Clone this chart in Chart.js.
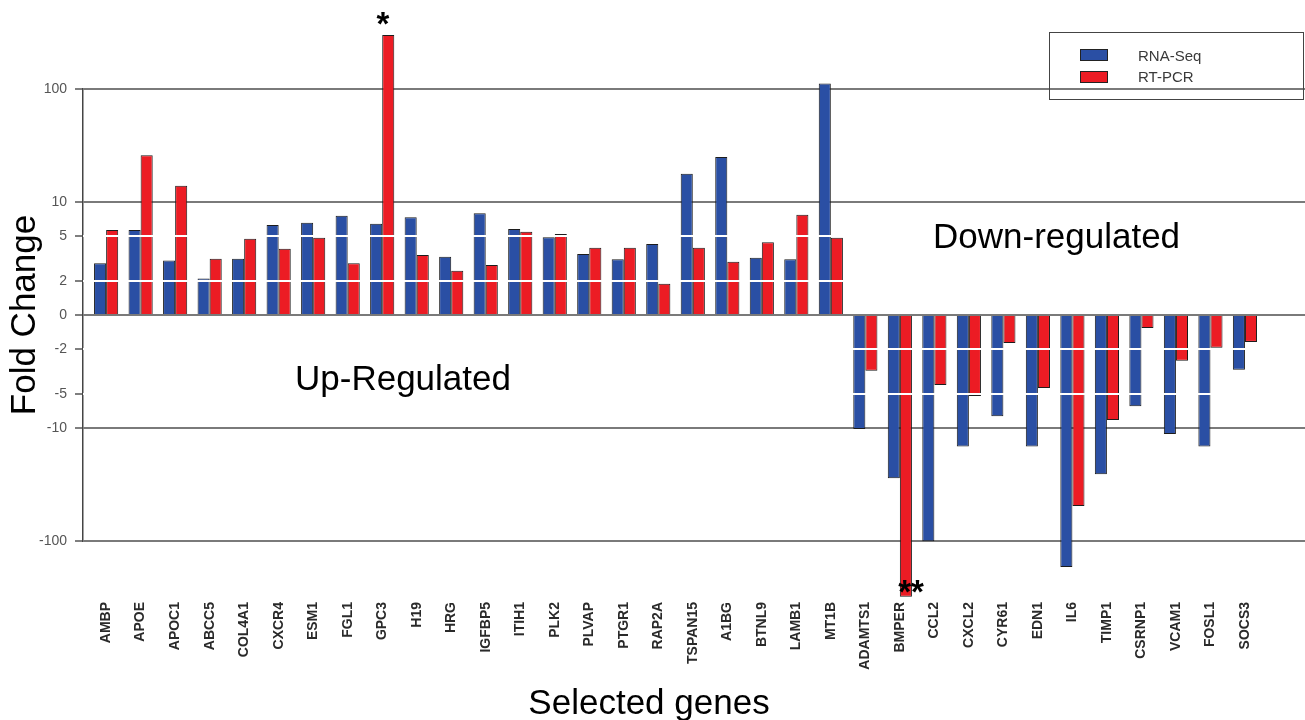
<!DOCTYPE html>
<html>
<head>
<meta charset="utf-8">
<script src="https://cdn.jsdelivr.net/npm/chart.js@4"></script>
<style>
  html, body { margin: 0; padding: 0; background: #fff; }
</style>
</head>
<body>
<canvas id="foldChart" width="1305" height="720"></canvas>
<script>
// Genes and fold changes
const genes = ['AMBP', 'APOE', 'APOC1', 'ABCC5', 'COL4A1', 'CXCR4', 'ESM1', 'FGL1', 'GPC3', 'H19',
    'HRG', 'IGFBP5', 'ITIH1', 'PLK2', 'PLVAP', 'PTGR1', 'RAP2A', 'TSPAN15', 'A1BG', 'BTNL9',
    'LAMB1', 'MT1B', 'ADAMTS1', 'BMPER', 'CCL2', 'CXCL2', 'CYR61', 'EDN1', 'IL6', 'TIMP1',
    'CSRNP1', 'VCAM1', 'FOSL1', 'SOCS3'];
const rnaSeq = [2.87, 5.65, 3.03, 2.10, 3.15, 6.26, 6.56, 7.57, 6.43, 7.32,
    3.28, 7.94, 5.77, 4.87, 3.47, 3.11, 4.25, 17.8, 25.0, 3.21,
    3.11, 112, -10.2, -27.9, -100.7, -14.6, -7.88, -14.6, -170, -25.7,
    -6.43, -11.3, -14.6, -3.05];
const rtPcr = [5.65, 25.9, 13.9, 3.15, 4.73, 3.86, 4.83, 2.87, 300, 3.40,
    2.47, 2.77, 5.46, 5.21, 3.94, 3.94, 1.89, 3.94, 2.96, 4.40,
    7.72, 4.83, -3.11, -311, -4.16, -5.21, -1.77, -4.43, -49, -8.5,
    -1.30, -2.54, -1.95, -1.73];
const yTicks = [100, 10, 5, 2, 0, -2, -5, -10, -100];
const whiteTicks = [5, 2, -2, -5];

// signed log10 scale (0 on the axis = fold change 1)
function toLog(v) {
    return v === 0 ? 0 : Math.sign(v) * Math.log10(Math.abs(v));
}

// Texts, stars and legend box
const annotations = {
    id: 'annotations',
    afterDraw(chart) {
        const c = chart.ctx;
        c.save();
        c.fillStyle = '#000';
        c.font = '35px Arial';
        c.textBaseline = 'alphabetic';
        c.textAlign = 'left';
        c.fillText('Up-Regulated', 295, 390);
        c.fillText('Down-regulated', 933, 248);
        c.textAlign = 'center';
        c.fillText('Selected genes', 649, 714);

        c.font = 'bold 33px Arial';
        c.fillText('*', 383, 35);
        c.fillText('**', 911, 603);

        // legend
        c.strokeStyle = '#444';
        c.lineWidth = 1;
        c.strokeRect(1049.5, 32.5, 254, 67);
        c.fillStyle = '#2a4fa4';
        c.fillRect(1080, 49, 28, 12);
        c.strokeStyle = '#222';
        c.strokeRect(1080.5, 49.5, 27, 11);
        c.fillStyle = '#ec1c24';
        c.fillRect(1080, 71, 28, 12);
        c.strokeRect(1080.5, 71.5, 27, 11);
        c.fillStyle = '#3a3a3a';
        c.font = '15px Arial';
        c.textAlign = 'left';
        c.textBaseline = 'middle';
        c.fillText('RNA-Seq', 1138, 57);
        c.fillText('RT-PCR', 1138, 78);
        c.restore();
    }
};

function graph() {
    const ctx = document.getElementById('foldChart').getContext('2d');
    new Chart(ctx, {
        type: 'bar',
        data: {
            datasets: [{
                label: 'RNA-Seq',
                data: genes.map((g, i) => ({ x: i, y: toLog(rnaSeq[i]) })),
                backgroundColor: '#2a4fa4',
                borderColor: '#1c1c1c',
                borderWidth: 1,
                clip: false
            }, {
                label: 'RT-PCR',
                data: genes.map((g, i) => ({ x: i, y: toLog(rtPcr[i]) })),
                backgroundColor: '#ec1c24',
                borderColor: '#1c1c1c',
                borderWidth: 1,
                clip: false
            }]
        },
        options: {
            responsive: false,
            animation: false,
            layout: { padding: { top: 89, right: 0, left: 0, bottom: 0 } },
            datasets: { bar: { categoryPercentage: 0.7, barPercentage: 1.0 } },
            plugins: {
                legend: { display: false },
                tooltip: { enabled: false }
            },
            scales: {
                x: {
                    type: 'linear',
                    min: -0.67,
                    max: 34.74,
                    offset: false,
                    grid: { display: false },
                    border: { display: false },
                    afterBuildTicks: (s) => { s.ticks = genes.map((g, i) => ({ value: i })); },
                    afterFit: (s) => {
                        s.height = 179;
                        s.paddingLeft = 0;
                        s.paddingRight = 0;
                    },
                    ticks: {
                        autoSkip: false,
                        minRotation: 90,
                        maxRotation: 90,
                        padding: 53,
                        color: '#2a2a2a',
                        font: { family: 'Arial', size: 14, weight: 'bold' },
                        callback: (v) => genes[v]
                    }
                },
                y: {
                    min: -2,
                    max: 2,
                    afterBuildTicks: (s) => { s.ticks = yTicks.map(v => ({ value: toLog(v) })); },
                    afterFit: (s) => { s.width = 83; },
                    border: { color: '#444', width: 1.5 },
                    grid: {
                        lineWidth: 2,
                        tickLength: 8,
                        tickColor: '#555',
                        tickWidth: 1.5,
                        color: (c) => {
                            const v = Math.abs(c.tick.value);
                            return (Math.abs(v - Math.round(v)) < 1e-6) ? '#7a7a7a' : 'rgba(0,0,0,0)';
                        }
                    },
                    ticks: {
                        padding: 8,
                        color: '#555',
                        font: { family: 'Arial', size: 14 },
                        callback: (v, i) => yTicks[i]
                    },
                    title: {
                        display: true,
                        text: 'Fold Change',
                        color: '#000',
                        font: { family: 'Arial', size: 35 },
                        padding: { top: 4, bottom: 0 }
                    }
                },
                yw: {
                    position: 'left',
                    min: -2,
                    max: 2,
                    afterBuildTicks: (s) => { s.ticks = whiteTicks.map(v => ({ value: toLog(v) })); },
                    afterFit: (s) => { s.width = 0; },
                    border: { display: false },
                    ticks: { display: false },
                    grid: { z: 1, color: '#ffffff', lineWidth: 2, drawTicks: false }
                }
            }
        },
        plugins: [annotations]
    });
}

document.addEventListener('DOMContentLoaded', function() {
    graph();
});
</script>
</body>
</html>
